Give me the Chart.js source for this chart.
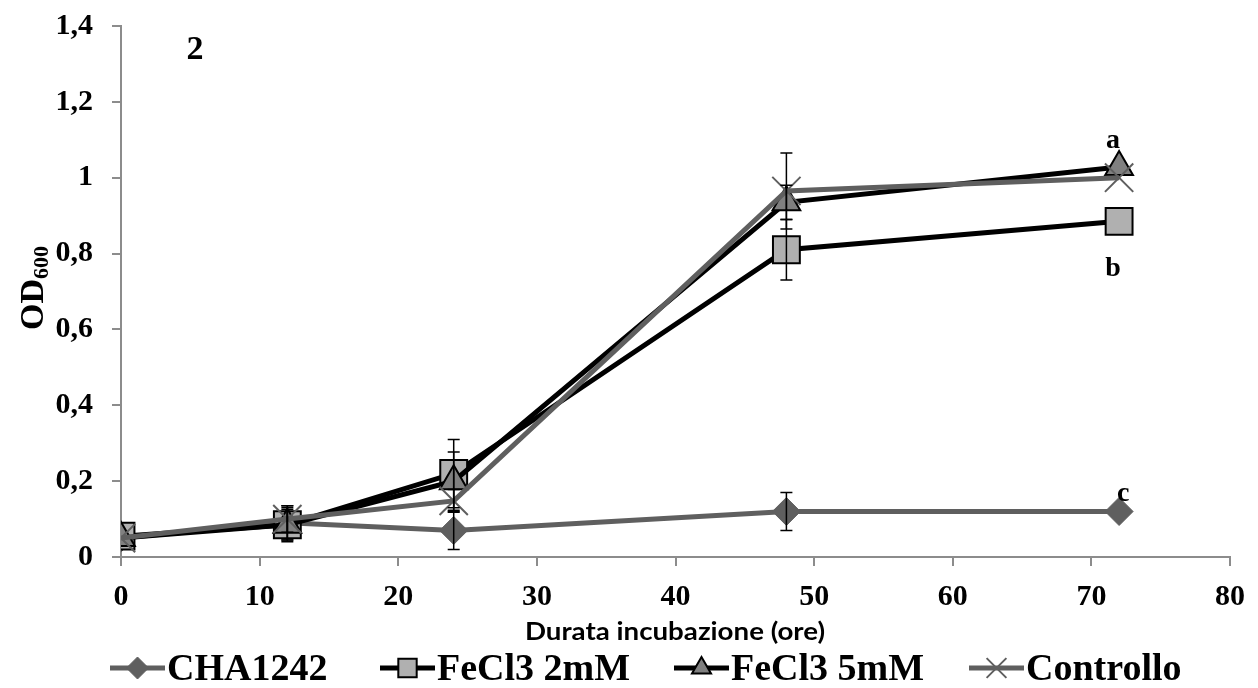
<!DOCTYPE html>
<html>
<head>
<meta charset="utf-8">
<script src="https://cdn.jsdelivr.net/npm/chart.js@4.4.1/dist/chart.umd.min.js"></script>
<style>
  html, body { margin: 0; padding: 0; background: #fff; }
  #wrap { width: 1258px; height: 688px; }
</style>
</head>
<body>
<div id="wrap"><canvas id="growth" width="1258" height="688"></canvas></div>
<script>
// incubation times (hours) and OD600 readings
const hours = [0, 12, 24, 48, 72];
const cha1242 = [0.05, 0.09, 0.07, 0.12, 0.12];
const fecl2 = [0.055, 0.085, 0.22, 0.81, 0.885];
const fecl5 = [0.05, 0.085, 0.2, 0.935, 1.028];
const controllo = [0.05, 0.1, 0.148, 0.965, 1.0];

// standard deviations
const cha1242Err = [0, 0.045, 0.05, 0.05, 0];
const fecl2Err = [0, 0.045, 0.09, 0.08, 0];
const fecl5Err = [0, 0.04, 0.077, 0.045, 0];
const controlloErr = [0, 0.035, 0.03, 0.1, 0];

const xTicks = [0, 10, 20, 30, 40, 50, 60, 70, 80];
const yTicks = [0, 0.2, 0.4, 0.6, 0.8, 1, 1.2, 1.4];
const seriesNames = ["CHA1242", "FeCl3 2mM", "FeCl3 5mM", "Controllo"];

const serif = "'Liberation Serif', 'Times New Roman', serif";
const darkGray = "#5f5f5f";

function pts(vals) {
  return hours.map((h, i) => ({ x: h, y: vals[i] }));
}

const datasets = [
  {
    label: seriesNames[0], data: pts(cha1242), err: cha1242Err,
    borderColor: darkGray, borderWidth: 5,
    pointStyle: "rectRot", pointRadius: 14, pointBackgroundColor: darkGray,
    pointBorderColor: darkGray, pointBorderWidth: 1, legendRadius: 11, order: 4
  },
  {
    label: seriesNames[1], data: pts(fecl2), err: fecl2Err,
    borderColor: "#000", borderWidth: 5,
    pointStyle: "rect", pointRadius: 19, pointBackgroundColor: "#b0b0b0",
    pointBorderColor: "#000", pointBorderWidth: 2, legendRadius: 13, order: 3
  },
  {
    label: seriesNames[2], data: pts(fecl5), err: fecl5Err,
    borderColor: "#000", borderWidth: 5,
    pointStyle: "triangle", pointRadius: 16, pointBackgroundColor: "#808080",
    pointBorderColor: "#000", pointBorderWidth: 2, legendRadius: 11, order: 2
  },
  {
    label: seriesNames[3], data: pts(controllo), err: controlloErr,
    borderColor: darkGray, borderWidth: 5,
    pointStyle: "crossRot", pointRadius: 20, pointBackgroundColor: darkGray,
    pointBorderColor: darkGray, pointBorderWidth: 2, legendRadius: 14, order: 1
  }
];

const extras = {
  id: "extras",
  afterDatasetsDraw(chart) {
    const ctx = chart.ctx, xs = chart.scales.x, ys = chart.scales.y;
    ctx.save();
    ctx.strokeStyle = "#000";
    ctx.lineWidth = 1.5;
    chart.data.datasets.forEach(ds => {
      ds.data.forEach((p, i) => {
        const e = ds.err[i];
        if (!e) return;
        const x = xs.getPixelForValue(p.x);
        const t = ys.getPixelForValue(p.y + e);
        const b = ys.getPixelForValue(p.y - e);
        ctx.beginPath();
        ctx.moveTo(x, t); ctx.lineTo(x, b);
        ctx.moveTo(x - 6, t); ctx.lineTo(x + 6, t);
        ctx.moveTo(x - 6, b); ctx.lineTo(x + 6, b);
        ctx.stroke();
      });
    });
    ctx.restore();
  },
  afterDraw(chart) {
    const ctx = chart.ctx, xs = chart.scales.x, ys = chart.scales.y;
    ctx.save();
    ctx.fillStyle = "#000";

    // panel number
    ctx.font = "bold 34px " + serif;
    ctx.textAlign = "center";
    ctx.textBaseline = "middle";
    ctx.fillText("2", 195, 50);

    // significance letters next to the last points
    ctx.font = "bold 28px " + serif;
    const lastX = xs.getPixelForValue(hours[hours.length - 1]);
    ctx.fillText("a", lastX - 6, ys.getPixelForValue(fecl5[4]) - 26);
    ctx.fillText("b", lastX - 6, ys.getPixelForValue(fecl2[4]) + 47);
    ctx.fillText("c", lastX + 4, ys.getPixelForValue(cha1242[4]) - 18);

    // y title: OD with subscript 600
    ctx.translate(31, 288);
    ctx.rotate(-Math.PI / 2);
    ctx.textAlign = "left";
    ctx.textBaseline = "alphabetic";
    ctx.font = "bold 34px " + serif;
    const odW = ctx.measureText("OD").width;
    ctx.font = "bold 22px " + serif;
    const subW = ctx.measureText("600").width;
    const start = -(odW + subW) / 2;
    ctx.font = "bold 34px " + serif;
    ctx.fillText("OD", start, 12);
    ctx.font = "bold 22px " + serif;
    ctx.fillText("600", start + odW, 17);
    ctx.setTransform(1, 0, 0, 1, 0, 0);

    // x title, narrowed sans like the rest of the figure
    ctx.font = "bold 24px Lato, 'Open Sans', sans-serif";
    ctx.textAlign = "center";
    ctx.textBaseline = "middle";
    const title = "Durata incubazione (ore)";
    const tw = ctx.measureText(title).width;
    ctx.translate(675, 632);
    ctx.scale(300 / tw, 1);
    ctx.fillText(title, 0, 0);
    ctx.setTransform(1, 0, 0, 1, 0, 0);

    // legend: line segment with marker, then name
    const legendX = [110, 380, 674, 969];
    const ly = 668;
    ctx.font = "bold 38px " + serif;
    chart.data.datasets.forEach((ds, i) => {
      const x0 = legendX[i];
      ctx.strokeStyle = ds.borderColor;
      ctx.lineWidth = 5;
      ctx.beginPath();
      ctx.moveTo(x0, ly); ctx.lineTo(x0 + 55, ly);
      ctx.stroke();
      ctx.fillStyle = ds.pointBackgroundColor;
      ctx.strokeStyle = ds.pointBorderColor;
      ctx.lineWidth = ds.pointBorderWidth;
      Chart.helpers.drawPoint(ctx, {
        pointStyle: ds.pointStyle, radius: ds.legendRadius,
        borderWidth: ds.pointBorderWidth, rotation: 0
      }, x0 + 27.5, ly);
      ctx.fillStyle = "#000";
      ctx.textAlign = "left";
      ctx.textBaseline = "middle";
      ctx.fillText(ds.label, x0 + 57, ly + 2);
    });
    ctx.restore();
  }
};

new Chart(document.getElementById("growth"), {
  type: "line",
  data: { datasets: datasets },
  plugins: [extras],
  options: {
    responsive: false,
    animation: false,
    layout: { padding: { top: 26, right: 28, left: 0, bottom: 0 } },
    plugins: { legend: { display: false }, tooltip: { enabled: false } },
    scales: {
      x: {
        type: "linear", min: 0, max: 80,
        afterBuildTicks: s => { s.ticks = xTicks.map(v => ({ value: v })); },
        afterFit: s => { s.height = 131; s.paddingLeft = 0; s.paddingRight = 0; },
        grid: { drawOnChartArea: false, drawTicks: true, tickLength: 9, color: "#8c8c8c", lineWidth: 2 },
        border: { color: "#8c8c8c", width: 2 },
        ticks: { color: "#000", padding: 13, font: { family: serif, weight: "bold", size: 30 } }
      },
      y: {
        min: 0, max: 1.4,
        afterBuildTicks: s => { s.ticks = yTicks.map(v => ({ value: v })); },
        afterFit: s => { s.width = 121; s.paddingTop = 0; s.paddingBottom = 0; },
        grid: { drawOnChartArea: false, drawTicks: true, tickLength: 9, color: "#8c8c8c", lineWidth: 2 },
        border: { color: "#8c8c8c", width: 2 },
        ticks: {
          color: "#000", padding: 19, font: { family: serif, weight: "bold", size: 30 },
          callback: v => String(Math.round(v * 10) / 10).replace(".", ",")
        }
      }
    }
  }
});
</script>
</body>
</html>
